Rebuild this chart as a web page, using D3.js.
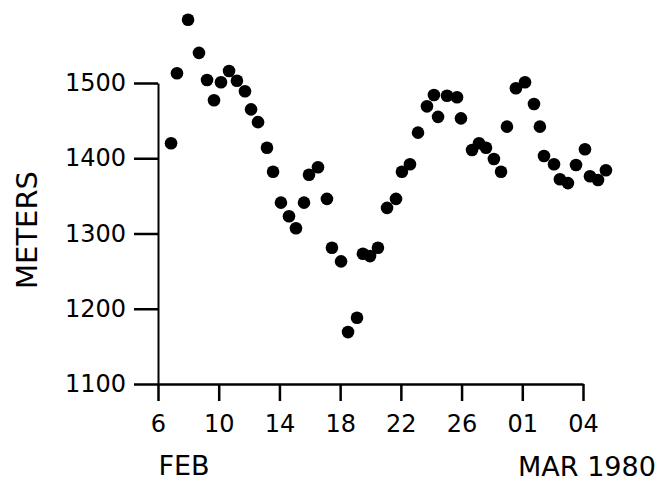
<!DOCTYPE html>
<html>
<head>
<meta charset="utf-8">
<script src="https://cdn.jsdelivr.net/npm/d3@7"></script>
<style>
  body { margin: 0; background: #fff; }
  text { font-family: "DejaVu Sans", sans-serif; fill: #000; }
</style>
</head>
<body>
<script>
// day number counted from Feb 6 (Feb 29 = 29, Mar 1 = 30), two readings per day
var days = [6.86, 7.25, 7.98, 8.70, 9.23, 9.69, 10.15, 10.68, 11.20, 11.73,
  12.13, 12.59, 13.18, 13.58, 14.10, 14.63, 15.09, 15.62, 15.95, 16.54,
  17.13, 17.46, 18.06, 18.52, 19.11, 19.50, 19.97, 20.49, 21.09, 21.68,
  22.07, 22.60, 23.13, 23.72, 24.18, 24.45, 25.04, 25.70, 25.96, 26.69,
  27.15, 27.61, 28.13, 28.60, 28.99, 29.58, 30.18, 30.77, 31.16, 31.43,
  32.09, 32.48, 33.01, 33.54, 34.13, 34.46, 34.99, 35.51];
var meters = [1420, 1513, 1584, 1540, 1504, 1477, 1501, 1516, 1503, 1489,
  1465, 1448, 1414, 1382, 1341, 1323, 1307, 1341, 1378, 1388,
  1346, 1281, 1263, 1169, 1188, 1273, 1270, 1281, 1334, 1346,
  1382, 1392, 1434, 1469, 1484, 1455, 1483, 1481, 1453, 1411,
  1420, 1414, 1399, 1382, 1442, 1493, 1501, 1472, 1442, 1403,
  1392, 1372, 1367, 1391, 1412, 1376, 1371, 1384];

var xTicks = [6, 10, 14, 18, 22, 26, 30, 34];
var xTickLabels = ["6", "10", "14", "18", "22", "26", "01", "04"];
var yTicks = [1100, 1200, 1300, 1400, 1500];

var svgWidth = 664, svgHeight = 485;

var svg = d3.select("body")
  .append("svg")
  .attr("width", svgWidth)
  .attr("height", svgHeight);

var x = d3.scaleLinear().domain([6, 34]).range([158, 583]);
var y = d3.scaleLinear().domain([1100, 1500]).range([384, 83]);

// y axis
var yAxis = svg.append("g")
  .attr("transform", "translate(158,0)")
  .call(d3.axisLeft(y).tickValues(yTicks).tickFormat(d3.format("d"))
    .tickSize(24).tickSizeOuter(0).tickPadding(8));
yAxis.select(".domain").attr("stroke-width", 2);
yAxis.selectAll(".tick line").attr("stroke-width", 2.5);
yAxis.selectAll("text").attr("font-size", "24px").attr("font-family", "DejaVu Sans");

// x axis
var xAxis = svg.append("g")
  .attr("transform", "translate(0,384)")
  .call(d3.axisBottom(x).tickValues(xTicks)
    .tickFormat(function(d, i) { return xTickLabels[i]; })
    .tickSize(17).tickSizeOuter(0).tickPadding(14));
xAxis.select(".domain").attr("stroke-width", 2.5);
xAxis.selectAll(".tick line").attr("stroke-width", 2.5);
xAxis.selectAll("text").attr("font-size", "24px").attr("font-family", "DejaVu Sans");

// points
svg.append("g").selectAll("circle")
  .data(days)
  .enter()
  .append("circle")
  .attr("cx", function(d) { return x(d); })
  .attr("cy", function(d, i) { return y(meters[i]); })
  .attr("r", 6.3)
  .attr("fill", "#000");

// labels
svg.append("text")
  .attr("x", 184).attr("y", 475)
  .attr("text-anchor", "middle")
  .attr("font-size", "27px")
  .text("FEB");

svg.append("text")
  .attr("x", 587).attr("y", 476)
  .attr("text-anchor", "middle")
  .attr("font-size", "27px")
  .text("MAR 1980");

svg.append("text")
  .attr("transform", "translate(37,230) rotate(-90)")
  .attr("text-anchor", "middle")
  .attr("font-size", "29px")
  .text("METERS");
</script>
</body>
</html>
